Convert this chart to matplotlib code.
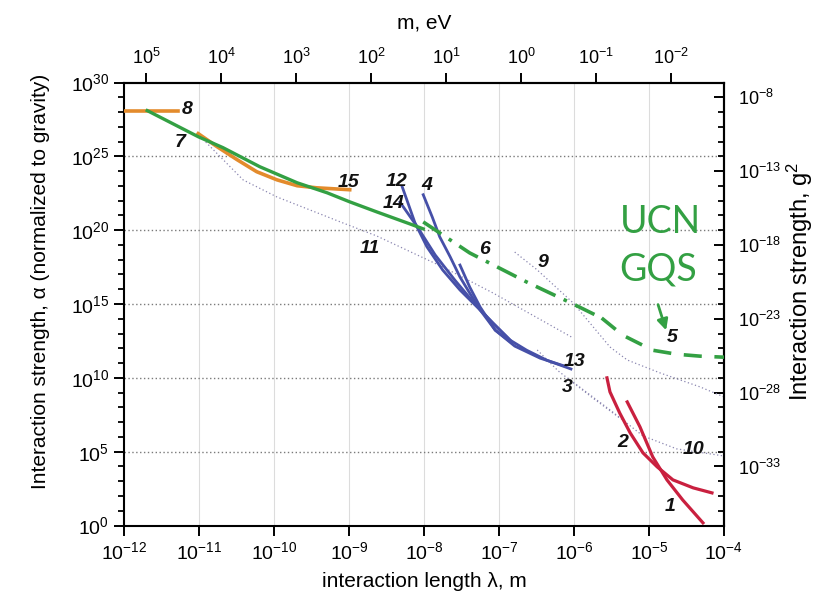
import numpy as np
import matplotlib.pyplot as plt
from matplotlib.ticker import FixedLocator, NullLocator, FuncFormatter

plt.rcParams['font.family'] = ['Liberation Sans', 'DejaVu Sans']
plt.rcParams['mathtext.fontset'] = 'custom'
plt.rcParams['mathtext.rm'] = 'Liberation Sans'
plt.rcParams['mathtext.it'] = 'Liberation Sans:italic'
plt.rcParams['mathtext.bf'] = 'Liberation Sans:bold'
plt.rcParams['mathtext.default'] = 'regular'

# ---- data (log10 of lambda [m] and log10 of alpha) ----
HBAR_C = 1.97e-7      # eV*m, converts lambda to mass for the top axis
G2_PER_ALPHA = 1e-37  # right axis scale, g^2 / alpha

c8_x = [-12.0, -11.28]
c8_y = [28.1, 28.1]

c7_x = [-11.69, -11.01, -10.68, -10.19, -9.69, -9.29, -8.99, -8.63, -8.19, -8.01]
c7_y = [28.10, 26.33, 25.59, 24.30, 23.21, 22.53, 21.92, 21.24, 20.43, 20.09]

c15_x = [-11.01, -10.76, -10.49, -10.23, -9.96, -9.69, -9.43, -8.99]
c15_y = [26.54, 25.66, 24.77, 23.96, 23.41, 23.01, 22.87, 22.74]

c6_x = [-8.01, -7.39, -6.63, -6.01, -5.63]
c6_y = [20.56, 18.46, 16.49, 15.0, 14.05]

c5_x = [-5.63, -5.35, -4.95, -4.63, -4.32, -4.0]
c5_y = [14.05, 12.89, 11.87, 11.60, 11.47, 11.40]

c12_x = [-8.29, -8.12, -7.96, -7.75, -7.52, -7.29, -7.08, -6.85, -6.63, -6.36, -6.04]
c12_y = [22.94, 20.50, 18.87, 17.30, 15.95, 14.79, 13.71, 12.55, 11.87, 11.19, 10.60]

c14_x = [-8.32, -8.08, -7.85, -7.59, -7.32, -7.08, -6.85]
c14_y = [21.9, 20.16, 18.32, 16.63, 15.0, 13.71, 12.55]

c4_x = [-8.01, -7.89, -7.79, -7.65, -7.52, -7.39, -7.25, -7.05, -6.85]
c4_y = [22.40, 20.90, 19.55, 18.19, 16.83, 15.74, 14.59, 13.23, 12.45]

c13_x = [-7.52, -7.39, -7.25, -7.05, -6.79, -6.45, -6.12]
c13_y = [17.64, 16.15, 14.79, 13.23, 12.15, 11.33, 10.79]

c2_x = [-5.56, -5.52, -5.39, -5.25, -5.08, -4.89, -4.68, -4.41, -4.16]
c2_y = [10.0, 9.05, 7.62, 6.27, 4.92, 3.97, 3.09, 2.55, 2.21]

c1_x = [-5.29, -5.12, -4.95, -4.76, -4.55, -4.28]
c1_y = [8.37, 6.68, 4.65, 3.09, 1.73, 0.18]

c11_x = [-10.91, -10.41, -9.96, -9.52, -9.08, -8.63, -7.75, -7.08, -6.01]
c11_y = [25.97, 23.4, 22.25, 21.37, 20.49, 19.61, 17.51, 15.75, 12.7]

c9_x = [-6.79, -6.49, -6.01, -5.52, -5.29, -4.85, -4.32, -4.0]
c9_y = [18.52, 17.31, 15.07, 12.09, 11.21, 10.33, 9.39, 8.71]

c3_x = [-6.49, -6.21, -5.75, -5.39]
c3_y = [11.89, 10.47, 8.64, 7.28]

c10_x = [-6.05, -5.52, -5.08, -4.63, -4.0]
c10_y = [9.86, 7.83, 6.07, 5.19, 4.71]

# curve labels: text, log10 x, log10 y
labels = ['8', '7', '15', '12', '14', '4', '11', '6', '9', '5', '13', '3', '2', '10', '1']
label_x = [-11.16, -11.25, -9.01, -8.36, -8.41, -7.96, -8.72, -7.19, -6.41, -4.69, -5.99, -6.09, -5.35, -4.41, -4.72]
label_y = [28.14, 25.97, 23.26, 23.33, 21.84, 23.06, 18.79, 18.66, 17.78, 12.70, 11.08, 9.38, 5.59, 5.12, 1.26]

top_ticks = [1e5, 1e4, 1e3, 1e2, 1e1, 1e0, 1e-1, 1e-2]
right_ticks = [1e-33, 1e-28, 1e-23, 1e-18, 1e-13, 1e-8]

orange = '#e38b2c'
green = '#33a043'
blue = '#4650a8'
red = '#c9203f'
dotc = '#8a86b0'


def p(xs, ys):
    return 10.0 ** np.array(xs), 10.0 ** np.array(ys)


def pow_label(v, pos=None):
    return r'$10^{%d}$' % int(round(np.log10(v)))


def lam_to_m(x):
    x = np.asarray(x, float)
    with np.errstate(divide='ignore'):
        return HBAR_C / x


fig = plt.figure(figsize=(8.15, 5.98), dpi=100)
ax = fig.add_axes([0.1521, 0.1212, 0.7362, 0.7408])
ax.set_xscale('log')
ax.set_yscale('log')
ax.set_xlim(1e-12, 1e-4)
ax.set_ylim(1e0, 1e30)
ax.set_axisbelow(True)

# grid: light vertical lines, dotted horizontal lines
for k in range(-11, -4):
    ax.axvline(10.0 ** k, color='#dcdcdc', lw=0.8, zorder=0)
for k in range(5, 30, 5):
    ax.axhline(10.0 ** k, color='#7a7a7a', lw=1.0, ls=(0, (1, 1.8)), zorder=0)

# thin dotted constraint curves
for xs, ys in [(c11_x, c11_y), (c9_x, c9_y), (c3_x, c3_y), (c10_x, c10_y)]:
    ax.plot(*p(xs, ys), color=dotc, lw=0.9, ls=(0, (1, 2)), zorder=1)

ax.plot(*p(c8_x, c8_y), color=orange, lw=2.6, zorder=3)
ax.plot(*p(c15_x, c15_y), color=orange, lw=2.6, zorder=3)
ax.plot(*p(c7_x, c7_y), color=green, lw=2.4, zorder=4)
ax.plot(*p(c6_x, c6_y), color=green, lw=2.6, ls=(0, (6, 2.5, 1, 2.5)), zorder=4)
ax.plot(*p(c5_x, c5_y), color=green, lw=2.6, ls=(0, (5, 3.5)), zorder=4)
for xs, ys in [(c12_x, c12_y), (c14_x, c14_y), (c4_x, c4_y), (c13_x, c13_y)]:
    ax.plot(*p(xs, ys), color=blue, lw=2.0, zorder=3)
ax.plot(*p(c2_x, c2_y), color=red, lw=2.3, zorder=3)
ax.plot(*p(c1_x, c1_y), color=red, lw=2.3, zorder=3)

for t, lx, ly in zip(labels, label_x, label_y):
    ax.text(10.0 ** lx, 10.0 ** ly, t, fontsize=14, fontweight='bold', fontstyle='italic',
            color='#111111', ha='center', va='center', zorder=6)

ucn_font = ['Lato', 'DejaVu Sans']
ax.text(10.0 ** -4.85, 10.0 ** 20.56, 'UCN', fontsize=27, color=green, family=ucn_font,
        ha='center', va='center', zorder=6)
ax.text(10.0 ** -4.88, 10.0 ** 17.31, 'GQS', fontsize=27, color=green, family=ucn_font,
        ha='center', va='center', zorder=6)
ax.annotate('', xy=(10.0 ** -4.76, 10.0 ** 13.04), xytext=(10.0 ** -4.89, 10.0 ** 15.14),
            arrowprops=dict(arrowstyle='-|>', color=green, lw=2, mutation_scale=16), zorder=6)

# bottom / left axes
ax.xaxis.set_major_locator(FixedLocator([10.0 ** k for k in range(-12, -3)]))
ax.xaxis.set_minor_locator(NullLocator())
ax.xaxis.set_major_formatter(FuncFormatter(pow_label))
ax.yaxis.set_major_locator(FixedLocator([10.0 ** k for k in range(0, 31, 5)]))
ax.yaxis.set_minor_locator(FixedLocator([10.0 ** k for k in range(0, 31)]))
ax.yaxis.set_minor_formatter(plt.NullFormatter())
ax.yaxis.set_major_formatter(FuncFormatter(pow_label))
ax.tick_params(axis='both', which='major', direction='out', length=7, width=1.4, labelsize=14)
ax.tick_params(axis='y', which='minor', direction='out', length=4.5, width=1.3)
ax.tick_params(axis='x', pad=4)
for s in ax.spines.values():
    s.set_linewidth(1.5)

ax.set_xlabel('interaction length λ, m', fontsize=15, labelpad=7)
ax.set_ylabel('Interaction strength, α (normalized to gravity)', fontsize=15)
ax.yaxis.set_label_coords(-0.123, 0.55, transform=ax.transAxes)

# top axis: mass in eV
top = ax.secondary_xaxis('top', functions=(lam_to_m, lam_to_m))
top.set_xticks(top_ticks)
top.xaxis.set_minor_locator(NullLocator())
top.xaxis.set_major_formatter(FuncFormatter(pow_label))
top.tick_params(direction='out', length=7, width=1.4, labelsize=13)
top.spines['top'].set_linewidth(1.5)
top.set_xlabel('m, eV', fontsize=15, labelpad=14)

# right axis: g^2
right = ax.secondary_yaxis('right', functions=(lambda a: a * G2_PER_ALPHA, lambda g: g / G2_PER_ALPHA))
right.yaxis.set_major_locator(FixedLocator(right_ticks))
right.yaxis.set_minor_locator(FixedLocator([10.0 ** k for k in range(-37, -7)]))
right.yaxis.set_minor_formatter(plt.NullFormatter())
right.yaxis.set_major_formatter(FuncFormatter(pow_label))
right.tick_params(axis='y', which='both', direction='in')
right.tick_params(axis='y', which='major', length=7, width=1.4, labelsize=13, pad=10)
right.tick_params(axis='y', which='minor', length=4.5, width=1.3)
right.spines['right'].set_linewidth(1.5)
right.set_ylabel('Interaction strength, g$^2$', fontsize=17)
right.yaxis.set_label_coords(1.102, 0.55, transform=ax.transAxes)

fig.savefig('out.png', dpi=100)
